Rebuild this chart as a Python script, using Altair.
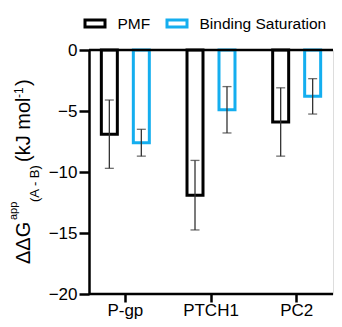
import altair as alt
import pandas as pd

# ---- data ----
groups = ["P-gp", "PTCH1", "PC2"]
series = ["PMF", "Binding Saturation"]
pmf_mean = [-6.9, -11.9, -5.9]
pmf_err = [2.8, 2.85, 2.8]
bs_mean = [-7.6, -4.9, -3.8]
bs_err = [1.1, 1.9, 1.45]
y_ticks = [-20, -15, -10, -5, 0]

rows = []
for i, g in enumerate(groups):
    for s, m, e in (("PMF", pmf_mean[i], pmf_err[i]), ("Binding Saturation", bs_mean[i], bs_err[i])):
        rows.append({"group": g, "series": s, "value": m, "lo": m - e, "hi": m + e})
df = pd.DataFrame(rows)

FONT = "Liberation Sans"
W, H = 244, 244
BLUE = "#14AEEF"
ERR = "#333333"

xenc = alt.X("group:N", sort=groups,
             scale=alt.Scale(range=[-6.5, 250.5], paddingInner=0, paddingOuter=0),
             axis=alt.Axis(title=None, domain=False, labelAngle=0, tickSize=8, tickWidth=2.5,
                           tickColor="black", labelFontSize=17, labelFont=FONT, labelColor="black",
                           labelPadding=0))
xoff = alt.XOffset("series:N", sort=series,
                   scale=alt.Scale(paddingInner=0.5, paddingOuter=0.589))
yscale = alt.Scale(domain=[-20, 0], nice=False, zero=False)
yaxis = alt.Axis(title=None, values=y_ticks, domainWidth=2.5, domainColor="black",
                 tickSize=10, tickWidth=2.5, tickColor="black", labelFontSize=17,
                 labelFont=FONT, labelColor="black", labelPadding=2, grid=False)

base = alt.Chart(df)

bars = base.mark_bar(fill="white", strokeWidth=3, strokeJoin="miter").encode(
    x=xenc, xOffset=xoff,
    y=alt.Y("value:Q", scale=yscale, axis=yaxis, title=None),
    y2=alt.datum(0),
    stroke=alt.Color("series:N", sort=series,
                     scale=alt.Scale(domain=series, range=["black", BLUE]),
                     legend=alt.Legend(title=None, orient="none", legendX=-5.5, legendY=-38,
                                       direction="horizontal",
                                       symbolType="M-1,-0.35H1V0.35H-1Z", symbolSize=400,
                                       symbolStrokeWidth=3, symbolFillColor="white",
                                       labelFontSize=15.5, labelFont=FONT, labelColor="black",
                                       labelOffset=11, columnPadding=10, padding=0)),
)

one = alt.Data(values=[{}])
zero_line = alt.Chart(one).mark_rule(color="black", strokeWidth=2.5).encode(
    y=alt.datum(0), x=alt.value(0), x2=alt.value(W))
bottom_line = alt.Chart(one).mark_rule(color="black", strokeWidth=2.5).encode(
    y=alt.datum(-20), x=alt.value(0), x2=alt.value(W))

err_rule = base.mark_rule(color=ERR, strokeWidth=1.3).encode(
    x=xenc, xOffset=xoff,
    y=alt.Y("lo:Q", scale=yscale, axis=yaxis, title=None), y2="hi:Q")
cap_lo = base.mark_tick(color=ERR, thickness=1.3, size=9, orient="horizontal").encode(
    x=xenc, xOffset=xoff, y=alt.Y("lo:Q", scale=yscale, axis=yaxis, title=None))
cap_hi = base.mark_tick(color=ERR, thickness=1.3, size=9, orient="horizontal").encode(
    x=xenc, xOffset=xoff, y=alt.Y("hi:Q", scale=yscale, axis=yaxis, title=None))


def ttext(t, size, xv, yv):
    return alt.Chart(one).mark_text(text=t, angle=270, align="left", baseline="alphabetic",
                                    fontSize=size, font=FONT, color="black").encode(
        x=alt.value(xv), y=alt.value(yv))


title_parts = [
    ttext("ΔΔG", 20, -59.5, 214),
    ttext("app", 11, -72, 170),
    ttext("(A - B)", 13, -50, 152),
    ttext("(kJ mol", 20, -59.5, 112),
    ttext("-1", 12, -66, 48),
    ttext(")", 20, -59.5, 36),
]

chart = alt.layer(bars, err_rule, cap_lo, cap_hi, zero_line, bottom_line, *title_parts).properties(
    width=W, height=H,
    autosize=alt.AutoSizeParams(type="none"),
    padding={"left": 81, "top": 42, "right": 1, "bottom": 25},
).configure_view(stroke=None).configure(background="white")

chart.save("out.html", embed_options={"renderer": "svg", "actions": False})
